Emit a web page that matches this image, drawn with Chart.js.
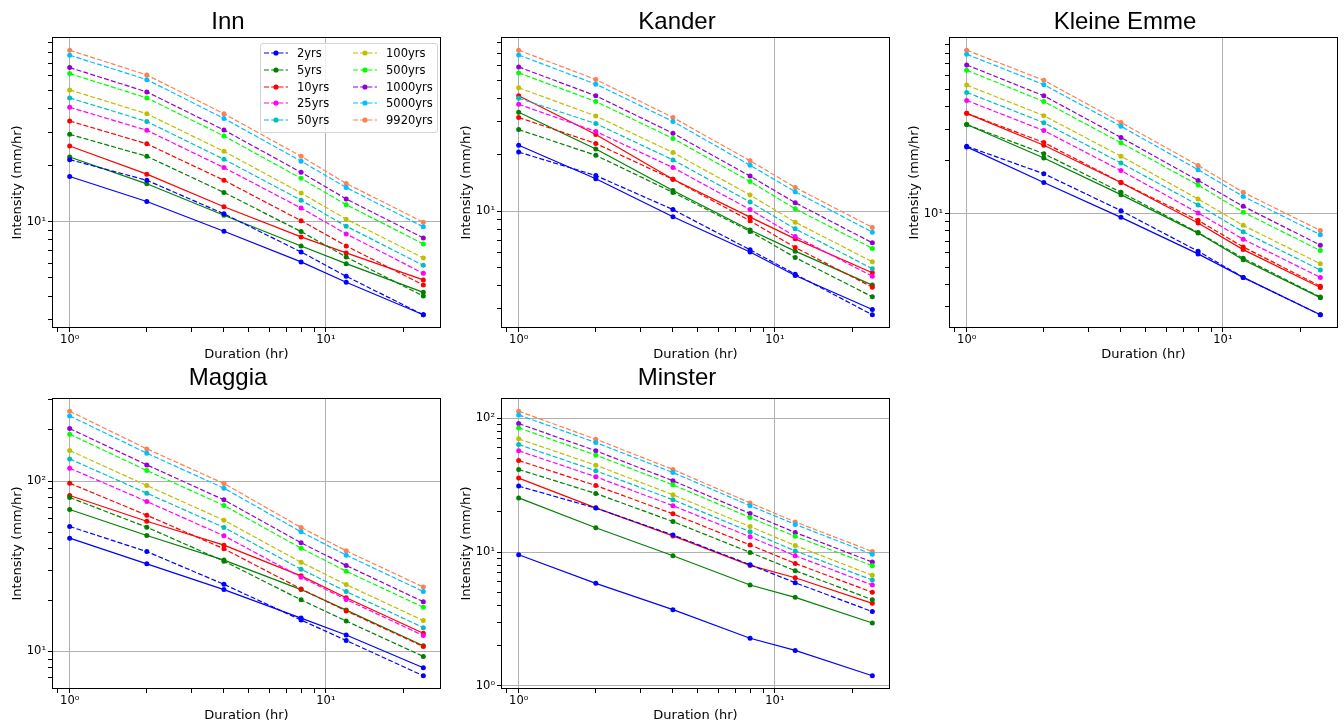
<!DOCTYPE html>
<html>
<head>
<meta charset="utf-8">
<script src="https://cdn.jsdelivr.net/npm/chart.js@4.4.0/dist/chart.umd.min.js"></script>
<style>
  html, body { margin: 0; padding: 0; background: #fff; overflow: hidden; }
  body { width: 1344px; height: 724px; position: relative; font-family: 'Liberation Sans', Arial, sans-serif; }
  .panel { position: absolute; }
  .ttl { position: absolute; font-size: 24px; line-height: 24px; white-space: nowrap; transform: translateX(-50%); color: #000; }
  .legend { position: absolute; left: 260px; top: 43px; width: 176px; height: 88px; border: 1px solid #d5d5d5; border-radius: 3px; background: rgba(255,255,255,0.8); }
  .leg-item { position: absolute; height: 14px; font-family: 'DejaVu Sans', sans-serif; font-size: 11.5px; line-height: 14px; color: #000; white-space: nowrap; }
  .leg-item svg { position: absolute; left: 0; top: 2px; }
  .leg-item span { position: absolute; top: 0; }
</style>
</head>
<body>
<script>
const durations = [1, 2, 4, 8, 12, 24];
const periodLabels = ['2yrs', '5yrs', '10yrs', '25yrs', '50yrs', '100yrs', '500yrs', '1000yrs', '5000yrs', '9920yrs'];
const periodColors = ['#0000ff', '#008000', '#ff0000', '#ff00ff', '#00bfbf', '#bfbf00', '#00ff00', '#9400d3', '#00bfff', '#ff7f50'];

// dashed curves, one row per return period (2yrs ... 9920yrs)
const innFit = [
  [21.4, 16.6, 11.0, 6.88, 5.10, 3.18],
  [29.2, 22.3, 14.3, 8.84, 6.47, 4.00],
  [34.4, 26.0, 16.6, 10.1, 7.41, 4.58],
  [40.7, 30.7, 19.4, 11.8, 8.59, 5.29],
  [45.7, 34.2, 21.5, 13.0, 9.44, 5.84],
  [50.4, 37.6, 23.7, 14.2, 10.3, 6.39],
  [61.6, 45.7, 28.6, 17.0, 12.3, 7.60],
  [66.3, 49.2, 30.8, 18.3, 13.2, 8.18],
  [77.2, 57.2, 35.5, 21.0, 15.2, 9.37],
  [82.1, 60.6, 37.6, 22.3, 15.96, 9.92]
];
// solid curves: 2yrs, 5yrs, 10yrs
const innObs = [
  [17.4, 12.8, 8.88, 6.09, 4.74, 3.18],
  [22.1, 15.9, 10.8, 7.41, 5.96, 4.19],
  [25.3, 17.9, 12.0, 8.28, 6.80, 4.88]
];

const kanderFit = [
  [20.7, 15.5, 10.2, 6.21, 4.60, 2.79],
  [27.3, 19.9, 12.6, 7.79, 5.65, 3.48],
  [31.7, 23.0, 14.8, 8.88, 6.39, 3.92],
  [37.3, 26.7, 17.1, 10.2, 7.32, 4.49],
  [40.2, 29.4, 18.8, 11.2, 8.04, 4.92],
  [45.7, 32.3, 20.6, 12.2, 8.73, 5.36],
  [54.9, 38.6, 24.5, 14.4, 10.3, 6.32],
  [59.1, 41.4, 26.1, 15.4, 11.1, 6.77],
  [68.5, 47.8, 30.2, 17.6, 12.7, 7.72],
  [72.6, 50.6, 31.7, 18.6, 13.4, 8.18]
];
const kanderObs = [
  [22.5, 14.9, 9.33, 6.04, 4.53, 2.98],
  [33.8, 21.5, 12.9, 7.92, 6.11, 4.02],
  [41.4, 25.7, 14.8, 9.29, 7.11, 4.68]
];

const emmeFit = [
  [24.0, 16.8, 10.4, 6.14, 4.37, 2.69],
  [31.8, 21.8, 13.2, 7.83, 5.60, 3.39],
  [36.8, 25.2, 15.0, 9.17, 6.49, 3.90],
  [43.5, 29.4, 17.5, 10.1, 7.18, 4.37],
  [48.3, 32.6, 19.3, 11.2, 7.90, 4.81],
  [53.1, 35.7, 21.1, 12.1, 8.59, 5.22],
  [64.4, 42.9, 25.1, 14.5, 10.2, 6.19],
  [69.0, 46.2, 26.9, 15.4, 11.0, 6.64],
  [79.2, 53.4, 31.1, 17.7, 12.5, 7.60],
  [83.5, 56.5, 32.7, 18.7, 13.2, 8.04]
];
const emmeObs = [
  [23.8, 15.0, 9.53, 5.93, 4.37, 2.69],
  [31.8, 20.6, 12.8, 7.77, 5.50, 3.36],
  [36.8, 24.3, 15.0, 8.85, 6.27, 3.83]
];

const maggiaFit = [
  [54.2, 38.6, 24.8, 15.3, 11.6, 7.20],
  [80.2, 53.7, 33.9, 20.1, 15.1, 9.35],
  [97.3, 63.1, 40.1, 23.3, 17.3, 10.7],
  [119.2, 76.0, 47.8, 27.3, 20.2, 12.4],
  [135.2, 85.0, 53.5, 30.4, 22.5, 13.8],
  [151.4, 94.3, 59.0, 33.4, 24.7, 15.2],
  [188.8, 115.5, 72.0, 40.4, 29.6, 18.2],
  [203.8, 124.7, 77.7, 43.5, 32.0, 19.6],
  [241.9, 146.0, 91.0, 50.4, 36.8, 22.5],
  [257.6, 154.8, 96.9, 53.5, 39.0, 23.9]
];
const maggiaObs = [
  [46.3, 32.7, 23.1, 15.7, 12.5, 8.02],
  [68.2, 48.0, 34.4, 23.1, 17.5, 10.8],
  [82.4, 58.2, 42.1, 27.8, 20.7, 12.8]
];

const minsterFit = [
  [31.1, 21.3, 13.4, 8.04, 5.90, 3.59],
  [41.4, 27.4, 16.9, 9.94, 7.26, 4.41],
  [48.3, 31.4, 19.3, 11.3, 8.23, 5.00],
  [57.1, 36.5, 22.2, 13.0, 9.39, 5.67],
  [63.6, 40.5, 24.6, 14.2, 10.2, 6.18],
  [70.1, 44.6, 26.8, 15.5, 11.2, 6.70],
  [84.7, 53.0, 31.8, 18.1, 13.1, 7.91],
  [91.2, 57.1, 34.1, 19.4, 14.0, 8.42],
  [105.9, 65.8, 39.3, 22.2, 16.1, 9.61],
  [112.8, 69.7, 41.4, 23.3, 16.8, 10.1]
];
const minsterObs = [
  [9.55, 5.84, 3.71, 2.27, 1.84, 1.19],
  [25.4, 15.2, 9.39, 5.67, 4.59, 2.95],
  [35.7, 21.4, 13.2, 7.95, 6.43, 4.14]
];

// plot area of each subplot on the page
const PW = 389, PH = 291;
const panels = [
  { name: 'Inn',          fit: innFit,     obs: innObs,     left: 52,  top: 37,  legend: true },
  { name: 'Kander',       fit: kanderFit,  obs: kanderObs,  left: 501, top: 37 },
  { name: 'Kleine Emme',  fit: emmeFit,    obs: emmeObs,    left: 949, top: 37 },
  { name: 'Maggia',       fit: maggiaFit,  obs: maggiaObs,  left: 52,  top: 398, titleTop: 365 },
  { name: 'Minster',      fit: minsterFit, obs: minsterObs, left: 501, top: 398, titleTop: 365 }
];

const YW = 52, XH = 40, PAD = 12;
const SUP = { '0': '⁰', '1': '¹', '2': '²', '3': '³', '-': '⁻' };

function isPow10(v) {
  const l = Math.log10(v);
  return Math.abs(l - Math.round(l)) < 1e-9;
}

function powLabel(v) {
  if (!isPow10(v)) return '';
  const e = String(Math.round(Math.log10(v)));
  return '10' + e.split('').map(c => SUP[c]).join('');
}

// matplotlib style log ticks: 1..9 x 10^n inside the range
function logTicks(scale) {
  const out = [];
  const e0 = Math.floor(Math.log10(scale.min)), e1 = Math.ceil(Math.log10(scale.max));
  for (let e = e0; e <= e1; e++) {
    for (let d = 1; d <= 9; d++) {
      const v = d * Math.pow(10, e);
      if (v >= scale.min && v <= scale.max) out.push({ value: v, major: d === 1 });
    }
  }
  scale.ticks = out;
}

function padRange(values) {
  const lo = Math.log10(Math.min(...values)), hi = Math.log10(Math.max(...values));
  const m = (hi - lo) * 0.05;
  return [Math.pow(10, lo - m), Math.pow(10, hi + m)];
}

const framePlugin = {
  id: 'frame',
  afterDraw(chart) {
    const { ctx, chartArea: a } = chart;
    ctx.save();
    ctx.strokeStyle = '#000';
    ctx.lineWidth = 1;
    ctx.strokeRect(Math.round(a.left) + 0.5, Math.round(a.top) + 0.5,
      Math.round(a.right - a.left) - 1, Math.round(a.bottom - a.top) - 1);
    ctx.restore();
  }
};

Chart.defaults.font.family = "'Liberation Sans', Arial, sans-serif";
Chart.defaults.color = '#000';

function gridOpts() {
  return {
    color: c => (c.tick && isPow10(c.tick.value)) ? '#b0b0b0' : 'rgba(0,0,0,0)',
    lineWidth: 1,
    tickColor: '#000',
    tickLength: 4,
    tickWidth: 1
  };
}

const axisTitleFont = { family: "'DejaVu Sans', sans-serif", size: 13 };
const tickFont = { family: "'DejaVu Sans', sans-serif", size: 11.5 };

panels.forEach(p => {
  const div = document.createElement('div');
  div.className = 'panel';
  div.style.left = (p.left - YW) + 'px';
  div.style.top = (p.top - PAD) + 'px';
  div.style.width = (PW + YW + PAD) + 'px';
  div.style.height = (PH + PAD + XH) + 'px';
  const canvas = document.createElement('canvas');
  div.appendChild(canvas);
  document.body.appendChild(div);

  const title = document.createElement('div');
  title.className = 'ttl';
  title.textContent = p.name;
  title.style.left = (p.left + 176) + 'px';
  title.style.top = (p.titleTop !== undefined ? p.titleTop : 9) + 'px';
  document.body.appendChild(title);

  const datasets = [];
  p.fit.forEach((vals, i) => {
    datasets.push({
      label: periodLabels[i],
      data: durations.map((d, k) => ({ x: d, y: vals[k] })),
      borderColor: periodColors[i],
      backgroundColor: periodColors[i],
      borderWidth: 1.2,
      borderDash: [5, 2.2],
      pointRadius: 2.5,
      pointBorderWidth: 0,
      tension: 0
    });
  });
  p.obs.forEach((vals, i) => {
    datasets.push({
      label: periodLabels[i] + ' obs',
      data: durations.map((d, k) => ({ x: d, y: vals[k] })),
      borderColor: periodColors[i],
      backgroundColor: periodColors[i],
      borderWidth: 1.2,
      pointRadius: 2.5,
      pointBorderWidth: 0,
      tension: 0
    });
  });

  const allY = p.fit.flat().concat(p.obs.flat());
  const [ymin, ymax] = padRange(allY);
  const [xmin, xmax] = padRange(durations);

  new Chart(canvas, {
    type: 'line',
    data: { datasets },
    options: {
      responsive: true,
      maintainAspectRatio: false,
      animation: false,
      layout: { padding: { top: PAD, right: PAD, left: 0, bottom: 0 } },
      plugins: { legend: { display: false }, tooltip: { enabled: false } },
      scales: {
        x: {
          type: 'logarithmic',
          min: xmin, max: xmax,
          afterBuildTicks: logTicks,
          afterFit: s => { s.height = XH; },
          grid: gridOpts(),
          border: { display: false },
          ticks: { autoSkip: false, maxRotation: 0, padding: 1, font: tickFont, callback: v => powLabel(v) },
          title: { display: true, text: 'Duration (hr)', font: axisTitleFont, padding: { top: 0, bottom: 6 } }
        },
        y: {
          type: 'logarithmic',
          min: ymin, max: ymax,
          afterBuildTicks: logTicks,
          afterFit: s => { s.width = YW; },
          grid: gridOpts(),
          border: { display: false },
          ticks: { autoSkip: false, padding: 2, font: tickFont, callback: v => powLabel(v) },
          title: { display: true, text: 'Intensity (mm/hr)', font: axisTitleFont, padding: { top: 10, bottom: 0 } }
        }
      }
    },
    plugins: [framePlugin]
  });

  if (p.legend) {
    const box = document.createElement('div');
    box.className = 'legend';
    periodLabels.forEach((lab, i) => {
      const col = i < 5 ? 0 : 1, row = i % 5;
      const item = document.createElement('div');
      item.className = 'leg-item';
      item.style.left = (col === 0 ? 3 : 92) + 'px';
      item.style.top = (2 + row * 16.8) + 'px';
      item.innerHTML =
        '<svg width="24" height="10"><line x1="0" y1="5" x2="24" y2="5" stroke="' + periodColors[i] +
        '" stroke-width="1.2" stroke-dasharray="5,2.2"/><circle cx="12" cy="5" r="2.6" fill="' + periodColors[i] +
        '"/></svg><span style="left:33px">' + lab + '</span>';
      box.appendChild(item);
    });
    document.body.appendChild(box);
  }
});
</script>
</body>
</html>
